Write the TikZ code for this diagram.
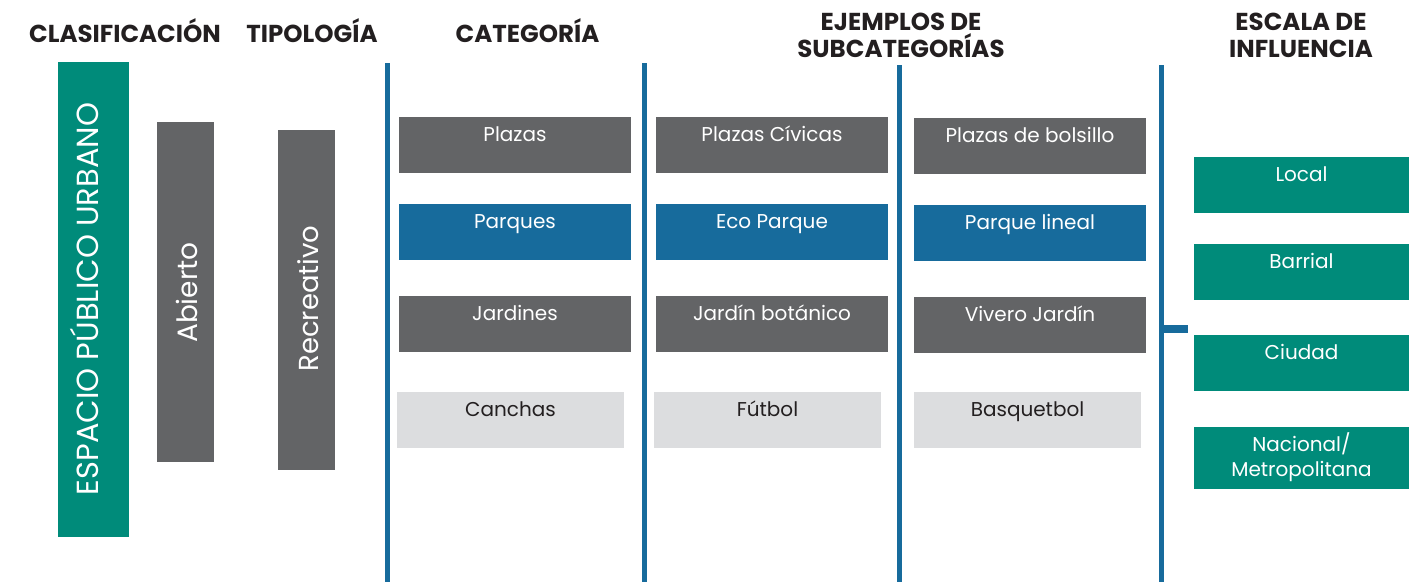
\documentclass[tikz,border=0pt]{standalone}
\usepackage{fontspec}
\setmainfont{Poppins}
\definecolor{espgreen}{HTML}{008B7A}
\definecolor{espgray}{HTML}{636466}
\definecolor{espblue}{HTML}{176B9C}
\definecolor{esplight}{HTML}{DCDDDF}
\definecolor{esptext}{HTML}{231F20}
\tikzset{
  hdr/.style={font=\bfseries\fontsize{24.5}{27}\selectfont, text=esptext, align=center, inner sep=0pt, anchor=base},
  cbox/.style={minimum width=232pt, minimum height=56pt, inner sep=0pt, draw=none},
  lbox/.style={minimum width=227pt, minimum height=56pt, inner sep=0pt, draw=none, fill=esplight},
  gbox/.style={cbox, fill=espgray},
  bbox/.style={cbox, fill=espblue},
  sbox/.style={minimum width=215pt, minimum height=56pt, inner sep=0pt, draw=none, fill=espgreen},
  btxt/.style={font=\fontsize{20}{25}\selectfont, text=white, anchor=base, inner sep=0pt, align=center},
  dtxt/.style={btxt, text=esptext},
  divider/.style={draw=espblue, line width=5pt},
  vtxt/.style={rotate=90, text=white, inner sep=0pt, anchor=base},
}
\begin{document}
\begin{tikzpicture}[x=1pt,y=-1pt]
\useasboundingbox (0,0) rectangle (1417,582);
% headers
\node[hdr] (h1) at (125,42) {CLASIFICACIÓN};
\node[hdr] (h2) at (312,42) {TIPOLOGÍA};
\node[hdr] (h3) at (527.5,42) {CATEGORÍA};
\node[hdr] (h4) at (901,57) {EJEMPLOS DE\\SUBCATEGORÍAS};
\node[hdr] (h5) at (1301,57) {ESCALA DE\\INFLUENCIA};
% dividers
\coordinate (d1t) at (387.5,63); \coordinate (d1b) at (387.5,582);
\coordinate (d2t) at (644.5,63); \coordinate (d2b) at (644.5,582);
\coordinate (d3t) at (899.5,65); \coordinate (d3b) at (899.5,582);
\coordinate (d4t) at (1161.5,65); \coordinate (d4b) at (1161.5,582);
\draw[divider] (d1t) -- (d1b);
\draw[divider] (d2t) -- (d2b);
\draw[divider] (d3t) -- (d3b);
\draw[divider] (d4t) -- (d4b);
\coordinate (stubA) at (1161.5,329); \coordinate (stubB) at (1188,329);
\draw[draw=espblue, line width=8pt] (stubA) -- (stubB);
% tall boxes
\node[fill=espgreen, minimum width=71pt, minimum height=475pt, inner sep=0pt] (esp) at (93.5,299.5) {};
\node[vtxt, font=\fontsize{30.5}{32}\selectfont] at (98,299) {ESPACIO PÚBLICO URBANO};
\node[fill=espgray, minimum width=57pt, minimum height=340pt, inner sep=0pt] (abi) at (185.5,292) {};
\node[vtxt, font=\fontsize{28}{30}\selectfont] at (197,292.5) {Abierto};
\node[fill=espgray, minimum width=57pt, minimum height=340pt, inner sep=0pt] (rec) at (306.5,300) {};
\node[vtxt, font=\fontsize{27.5}{30}\selectfont] at (318,298.5) {Recreativo};
% column 1
\node[gbox] (c1a) at (515,145) {};
\node[btxt] at ([yshift=-25pt]c1a.north) {Plazas};
\node[bbox] (c1b) at (515,232) {};
\node[btxt] at ([yshift=-25pt]c1b.north) {Parques};
\node[gbox] (c1c) at (515,324) {};
\node[btxt] at ([yshift=-25pt]c1c.north) {Jardines};
\node[lbox] (c1d) at (510.5,420) {};
\node[dtxt] at ([yshift=-25pt]c1d.north) {Canchas};
% column 2
\node[gbox] (c2a) at (772,145) {};
\node[btxt] at ([yshift=-25pt]c2a.north) {Plazas Cívicas};
\node[bbox] (c2b) at (772,232) {};
\node[btxt] at ([yshift=-25pt]c2b.north) {Eco Parque};
\node[gbox] (c2c) at (772,324) {};
\node[btxt] at ([yshift=-25pt]c2c.north) {Jardín botánico};
\node[lbox] (c2d) at (767.5,420) {};
\node[dtxt] at ([yshift=-25pt]c2d.north) {Fútbol};
% column 3
\node[gbox] (c3a) at (1030,145.5) {};
\node[btxt] at ([yshift=-25pt]c3a.north) {Plazas de bolsillo};
\node[bbox] (c3b) at (1030,233) {};
\node[btxt] at ([yshift=-25pt]c3b.north) {Parque lineal};
\node[gbox] (c3c) at (1030,325) {};
\node[btxt] at ([yshift=-25pt]c3c.north) {Vivero Jardín};
\node[lbox] (c3d) at (1027.5,420) {};
\node[dtxt] at ([yshift=-25pt]c3d.north) {Basquetbol};
% scale column
\node[sbox] (s1) at (1301.5,185) {};
\node[btxt] at ([yshift=-25pt]s1.north) {Local};
\node[sbox] (s2) at (1301.5,272) {};
\node[btxt] at ([yshift=-25pt]s2.north) {Barrial};
\node[sbox] (s3) at (1301.5,363) {};
\node[btxt] at ([yshift=-25pt]s3.north) {Ciudad};
\node[sbox, minimum height=62pt] (s4) at (1301.5,458) {};
\node[btxt] at ([yshift=-50pt]s4.north) {Nacional/\\Metropolitana};
\end{tikzpicture}
\end{document}
